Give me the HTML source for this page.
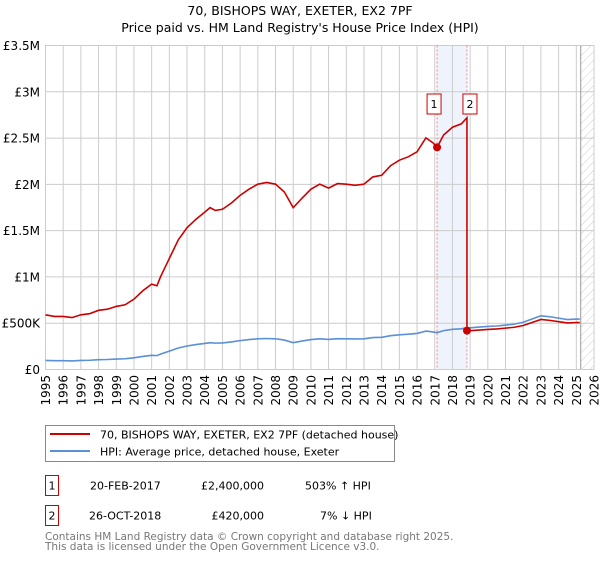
<!DOCTYPE html>
<html><head><meta charset="utf-8"><style>
body{margin:0;background:#fff;font-family:"DejaVu Sans","Liberation Sans",sans-serif;}
svg text{font-family:"DejaVu Sans","Liberation Sans",sans-serif;}
</style></head><body>
<svg id="chart" width="600" height="560" xmlns="http://www.w3.org/2000/svg">
<defs><pattern id="hatch" width="6" height="6" patternUnits="userSpaceOnUse" patternTransform="rotate(45)"><line x1="0" y1="0" x2="0" y2="6" stroke="#ccc" stroke-width="1"/></pattern></defs>
<text x="300" y="15" text-anchor="middle" font-size="12.5">70, BISHOPS WAY, EXETER, EX2 7PF</text>
<text x="300" y="32" text-anchor="middle" font-size="12.5">Price paid vs. HM Land Registry's House Price Index (HPI)</text>
<g id="grid"></g><g id="marks"></g><g id="axes"></g>
<g>
<rect x="45.5" y="425.5" width="349" height="36" fill="#fff" stroke="#888"/>
<line x1="50" y1="434" x2="90" y2="434" stroke="#cc0000" stroke-width="2"/>
<text x="100" y="438.5" font-size="11">70, BISHOPS WAY, EXETER, EX2 7PF (detached house)</text>
<line x1="50" y1="451" x2="90" y2="451" stroke="#5b8fd6" stroke-width="2"/>
<text x="100" y="455.5" font-size="11">HPI: Average price, detached house, Exeter</text>
</g>
<g font-size="11">
<rect x="45.5" y="475.5" width="13" height="20" fill="#fff" stroke="#cc0000"/><text x="52" y="489.5" text-anchor="middle">1</text>
<text x="90" y="489.5">20-FEB-2017</text><text x="264" y="489.5" text-anchor="end">£2,400,000</text><text x="305" y="489.5">503% ↑ HPI</text>
<rect x="45.5" y="505.5" width="13" height="20" fill="#fff" stroke="#cc0000"/><text x="52" y="519.5" text-anchor="middle">2</text>
<text x="89" y="519.5">26-OCT-2018</text><text x="264" y="519.5" text-anchor="end">£420,000</text><text x="320" y="519.5">7% ↓ HPI</text>
</g>
<text x="45" y="540" font-size="10.5" fill="#777">Contains HM Land Registry data © Crown copyright and database right 2025.</text>
<text x="45" y="550" font-size="10.5" fill="#777">This data is licensed under the Open Government Licence v3.0.</text>
</svg>
<script>
const hpiYears=[1995,1995.5,1996,1996.5,1997,1997.5,1998,1998.5,1999,1999.5,2000,2000.5,2001,2001.3,2001.5,2002,2002.5,2003,2003.5,2004,2004.3,2004.6,2005,2005.5,2006,2006.5,2007,2007.5,2008,2008.5,2009,2009.5,2010,2010.5,2011,2011.5,2012,2012.5,2013,2013.5,2014,2014.5,2015,2015.5,2016,2016.5,2016.9,2017.13,2017.5,2018,2018.5,2018.82,2019,2019.5,2020,2020.5,2021,2021.5,2022,2022.5,2023,2023.5,2024,2024.5,2025,2025.2];
const hpiValues=[98,95,95,93,98,100,106,108,113,116,126,141,153,150,166,199,232,254,269,282,290,285,287,298,312,323,332,335,332,318,290,307,323,332,325,333,332,330,332,345,348,365,375,381,390,415,406,398,420,434,440,451,450,458,465,470,480,490,510,545,580,570,555,540,545,545];
const saleDates=[2017.13,2018.82];
const salePrices=[2400,420];
const saleLabels=["1","2"];
const yTicks=[0,500,1000,1500,2000,2500,3000,3500];
const yTickLabels=["£0","£500K","£1M","£1.5M","£2M","£2.5M","£3M","£3.5M"];
const xTicks=[];for(let y=1995;y<=2026;y++)xTicks.push(y);

const L=45.5,R=594,T=45.5,B=369.5;
const X=v=>L+(v-1995)/31*(R-L);
const Y=v=>B-v/3500*(B-T);
const NS="http://www.w3.org/2000/svg";
function mk(p,tag,at){const e=document.createElementNS(NS,tag);for(const k in at)e.setAttribute(k,at[k]);p.appendChild(e);return e;}
const grid=document.getElementById('grid'),marks=document.getElementById('marks'),axes=document.getElementById('axes');
// shade band
const band=mk(grid,'rect',{x:X(saleDates[0]),y:T,width:X(saleDates[1])-X(saleDates[0]),height:B-T,fill:'#eef3fc'});


xTicks.forEach(t=>{const l=mk(grid,'line',{x1:X(t),x2:X(t),y1:T,y2:B,stroke:'#ccc','stroke-width':1});

});
yTicks.forEach(t=>{const l=mk(grid,'line',{x1:L,x2:R,y1:Y(t),y2:Y(t),stroke:'#ccc','stroke-width':1});

});
const hx=X(2025.25);
const hatch=mk(grid,'rect',{x:hx,y:T,width:R-hx,height:B-T,fill:'url(#hatch)'});


mk(grid,'line',{x1:hx,x2:hx,y1:T,y2:B,stroke:'#999','stroke-width':1});
mk(grid,'rect',{x:L,y:T,width:R-L,height:B-T,fill:'none',stroke:'#ccc'});
saleDates.forEach(d=>{const l=mk(grid,'line',{x1:X(d),x2:X(d),y1:T,y2:B,stroke:'#f08080','stroke-dasharray':'2,2'});

});
// HPI line
const hp=mk(marks,'polyline',{points:hpiYears.map((y,i)=>X(y)+','+Y(hpiValues[i])).join(' '),fill:'none',stroke:'#5b8fd6','stroke-width':1.6});


// property line: HPI indexed to sales
function hpiAt(d){for(let i=1;i<hpiYears.length;i++){if(d<=hpiYears[i]){const f=(d-hpiYears[i-1])/(hpiYears[i]-hpiYears[i-1]);return hpiValues[i-1]+f*(hpiValues[i]-hpiValues[i-1]);}}return hpiValues[hpiValues.length-1];}
const r1=salePrices[0]/hpiAt(saleDates[0]),r2=salePrices[1]/hpiAt(saleDates[1]);
const pts=[];
hpiYears.forEach((y,i)=>{if(y<=saleDates[1])pts.push([y,hpiValues[i]*r1]);});
pts.push([saleDates[1],salePrices[1]]);
hpiYears.forEach((y,i)=>{if(y>saleDates[1])pts.push([y,hpiValues[i]*r2]);});
const pp=mk(marks,'polyline',{points:pts.map(p=>X(p[0])+','+Y(p[1])).join(' '),fill:'none',stroke:'#cc0000','stroke-width':1.6});


saleDates.forEach((d,i)=>{
 const c=mk(marks,'circle',{cx:X(d),cy:Y(salePrices[i]),r:4,fill:'#cc0000'});
 
 
 const g=mk(marks,'g',{});
 
 
 const bx=X(d)-(i==0?3:-3);
 mk(g,'rect',{x:bx-7,y:94,width:14,height:20,fill:'#fff',stroke:'#cc0000'});
 const t=mk(g,'text',{x:bx,y:108,'text-anchor':'middle','font-size':11});t.textContent=saleLabels[i];
});
yTicks.forEach((t,i)=>{const e=mk(axes,'text',{x:40,y:Y(t)+4.5,'text-anchor':'end','font-size':12});e.textContent=yTickLabels[i];

});
xTicks.forEach(t=>{const e=mk(axes,'text',{x:0,y:0,'text-anchor':'end','font-size':12,transform:`translate(${X(t)+4.5},375) rotate(-90)`});e.textContent=t;

});
</script>
</body></html>
